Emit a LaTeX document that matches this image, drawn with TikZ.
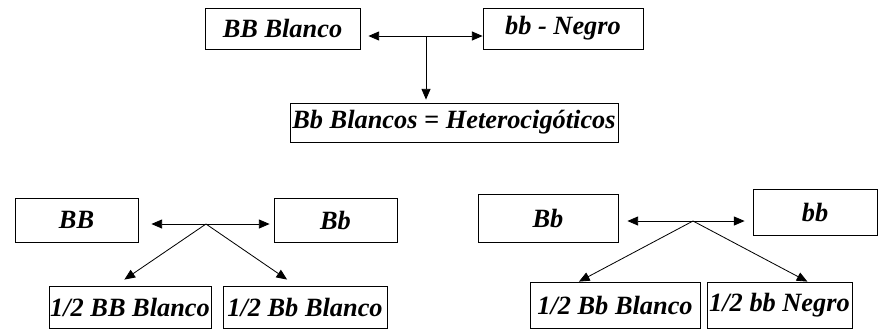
\documentclass[tikz,border=0pt]{standalone}
\usepackage{fontspec}
\setmainfont{Liberation Serif}
\usepackage{tikz}
\usetikzlibrary{arrows.meta}
\tikzstyle{gbox}=[rectangle,draw=black,line width=0.7pt,inner sep=1pt,
  font=\bfseries\itshape\fontsize{22.5}{26}\selectfont]
\tikzstyle{arr}=[line width=0.7pt,-{Triangle[length=0.32cm,width=0.27cm]}]
\tikzstyle{darr}=[line width=0.7pt,{Triangle[length=0.32cm,width=0.27cm]}-{Triangle[length=0.32cm,width=0.27cm]}]

\begin{document}
\begin{tikzpicture}[x=0.03cm,y=-0.03cm]
        \useasboundingbox (0,0) rectangle (879,331);
        \node [style=gbox,minimum width=4.65cm,minimum height=1.23cm] (bbl) at (282.5,28.5) {BB Blanco};
        \node [style=gbox,minimum width=4.8cm,minimum height=1.23cm] (bbn) at (563,28.5) {bb - Negro};
        \node [style=gbox,minimum width=9.84cm,minimum height=1.17cm] (het) at (454,122.5) {Bb Blancos = Heterocigóticos};
        \coordinate (j1) at (426,36);
        \node [style=gbox,minimum width=3.69cm,minimum height=1.32cm] (pa) at (76.5,220) {BB};
        \node [style=gbox,minimum width=3.69cm,minimum height=1.32cm] (pb) at (335.5,220) {Bb};
        \node [style=gbox,minimum width=4.86cm,minimum height=1.26cm] (ha) at (130,307) {1/2 BB Blanco};
        \node [style=gbox,minimum width=4.92cm,minimum height=1.26cm] (hb) at (305,307) {1/2 Bb Blanco};
        \coordinate (j2) at (206,224);
        \node [style=gbox,minimum width=4.2cm,minimum height=1.44cm] (pc) at (548,218) {Bb};
        \node [style=gbox,minimum width=3.72cm,minimum height=1.38cm] (pd) at (815,212) {bb};
        \node [style=gbox,minimum width=5.1cm,minimum height=1.38cm] (hc) at (615,305) {1/2 Bb Blanco};
        \node [style=gbox,minimum width=4.35cm,minimum height=1.38cm] (hd) at (779.5,305) {1/2 bb Negro};
        \coordinate (j3) at (693,221);
        \draw [style=darr,shorten <=0.24cm] (bbl.east |- j1) to (bbn.west |- j1);
        \draw [style=arr,shorten >=0.09cm] (j1) to (j1 |- het.north);
        \draw [style=darr,shorten <=0.39cm,shorten >=0.12cm] (pa.east |- j2) to (pb.west |- j2);
        \draw [style=arr,shorten >=0.32cm] (j2) to (ha.124);
        \draw [style=arr,shorten >=0.32cm] (j2) to (hb.113);
        \draw [style=darr,shorten <=0.27cm,shorten >=0.24cm] (pc.east |- j3) to (pd.west |- j3);
        \draw [style=arr] (j3) to (hc.147);
        \draw [style=arr] (j3) to (hd.40);
    \end{tikzpicture}
\end{document}
